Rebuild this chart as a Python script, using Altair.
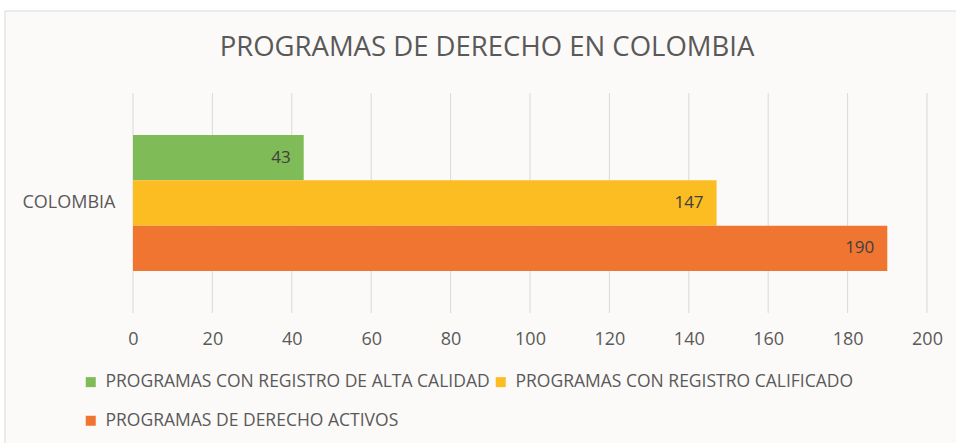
import altair as alt
import pandas as pd

countries = ["COLOMBIA"]
series = [
    "PROGRAMAS CON REGISTRO DE ALTA CALIDAD",
    "PROGRAMAS CON REGISTRO CALIFICADO",
    "PROGRAMAS DE DERECHO ACTIVOS",
]
values = [43, 147, 190]
colors = ["#7fbc57", "#fbbd22", "#f07530"]
x_ticks = [0, 20, 40, 60, 80, 100, 120, 140, 160, 180, 200]
title_text = "PROGRAMAS DE DERECHO EN COLOMBIA"

df = pd.DataFrame({
    "country": countries * len(series),
    "series": series,
    "value": values,
})
ticks_df = pd.DataFrame({"tick": x_ticks})

FONT = "Open Sans"
GRAY = "#595959"

xscale = alt.Scale(domain=[0, 200], nice=False)

# chart-area frame (decorative background with light border)
frame = alt.Chart(pd.DataFrame({"k": [0]})).mark_rect(
    fill="#fcfaf8", stroke="#d9d9d9", strokeWidth=1
).encode(
    x=alt.value(-128), x2=alt.value(1000),
    y=alt.value(-82), y2=alt.value(400),
)

title = alt.Chart(pd.DataFrame({"k": [0]})).mark_text(
    text=title_text, fontSize=27.5, font=FONT, color=GRAY,
    align="center", baseline="middle"
).encode(x=alt.value(354), y=alt.value(-45))

grid = alt.Chart(ticks_df).mark_rule(color="#d9d9d9", strokeWidth=1).encode(
    x=alt.X("tick:Q", scale=xscale, title=None,
            axis=alt.Axis(values=x_ticks, domain=False, ticks=False,
                          grid=False, labelPadding=17, labelFlush=False,
                          labelFontSize=18, labelColor=GRAY, labelFont=FONT,
                          zindex=1)),
)

base = alt.Chart(df).encode(
    y=alt.Y("country:N", title=None,
            scale=alt.Scale(paddingInner=0, paddingOuter=0.31),
            axis=alt.Axis(domain=False, ticks=False, labelPadding=18,
                          labelFontSize=18, labelColor=GRAY, labelFont=FONT,
                          zindex=1)),
    yOffset=alt.YOffset("series:N", sort=series,
                        scale=alt.Scale(paddingInner=0, paddingOuter=0)),
)

bars = base.mark_bar().encode(
    x=alt.X("value:Q", scale=xscale, title=None),
    color=alt.Color("series:N", sort=series,
                    scale=alt.Scale(domain=series, range=colors),
                    legend=alt.Legend(title=None, orient="none", legendX=-51,
                                      legendY=280, columns=2, direction="horizontal",
                                      symbolType="square", symbolSize=100,
                                      symbolStrokeWidth=0, labelFontSize=17.5,
                                      labelColor=GRAY, labelFont=FONT,
                                      labelLimit=0,
                                      columnPadding=2, rowPadding=20,
                                      labelOffset=6)),
)

labels = base.mark_text(align="right", dx=-13, fontSize=17, color="#404040",
                        font=FONT).encode(
    x=alt.X("value:Q", scale=xscale),
    text=alt.Text("value:Q"),
)

chart = (frame + title + grid + bars + labels).properties(
    width=794, height=220,
    padding={"left": 133, "top": 93, "right": 29, "bottom": 130},
    autosize=alt.AutoSizeParams(type="none"),
    background="#ffffff",
).configure_view(stroke=None)

chart.save("out.html", embed_options={"renderer": "svg", "actions": False})
